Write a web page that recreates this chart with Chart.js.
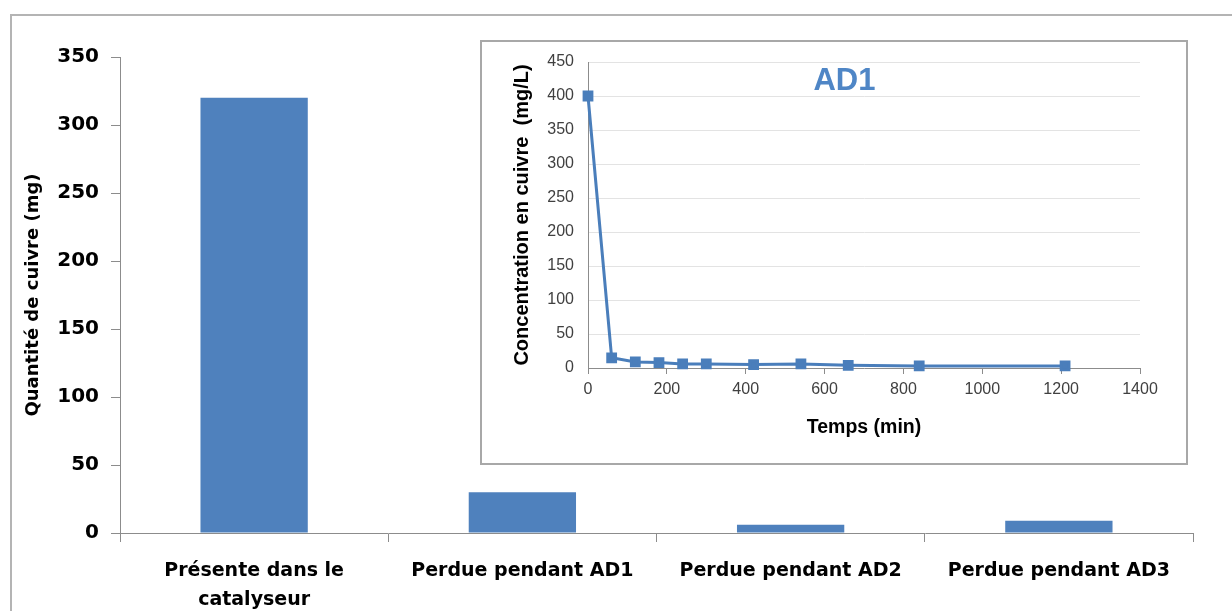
<!DOCTYPE html>
<html>
<head>
<meta charset="utf-8">
<script src="https://cdn.jsdelivr.net/npm/chart.js@4"></script>
<style>
    body { margin: 0; background: #fff; }
    #wrap { position: relative; width: 1232px; height: 611px; overflow: hidden; }
    #frame { position: absolute; left: 10px; top: 14px; width: 1300px; height: 700px; border-left: 2px solid #b4b4b4; border-top: 2px solid #b4b4b4; }
    #main { position: absolute; left: 0; top: 0; }
    #inset { position: absolute; left: 480px; top: 40px; width: 704px; height: 421px; border: 2px solid #a8a8a8; background: #fff; }
    #insetTitle { position: absolute; left: 295px; top: 20px; width: 135px; text-align: center; font: bold 31px "Liberation Sans", Arial, sans-serif; color: #4f86c6; }
</style>
</head>
<body>
<div id="wrap">
    <div id="frame"></div>
    <canvas id="main" width="1232" height="611"></canvas>
    <div id="inset">
        <canvas id="insetChart" width="704" height="421"></canvas>
        <div id="insetTitle">AD1</div>
    </div>
</div>
<script>
// bar chart : quantite de cuivre
const categories = [['Présente dans le', 'catalyseur'], 'Perdue pendant AD1', 'Perdue pendant AD2', 'Perdue pendant AD3'];
const quantite = [320, 30, 6, 9];

// inset : concentration vs temps
const temps = [0, 60, 120, 180, 240, 300, 420, 540, 660, 840, 1210];
const concentration = [400, 15, 9, 8, 6, 6, 5, 6, 4, 3, 3];

const bleu = '#4f81bd';

document.addEventListener("DOMContentLoaded", function () {

    function mainChart() {
        const ctx = document.getElementById('main');
        new Chart(ctx, {
            type: 'bar',
            data: {
                labels: categories,
                datasets: [{
                    data: quantite,
                    backgroundColor: bleu,
                    categoryPercentage: 1,
                    barPercentage: 0.4
                }]
            },
            options: {
                responsive: false,
                animation: false,
                layout: { padding: { left: 14, top: 57, right: 39, bottom: 0 } },
                plugins: { legend: { display: false }, tooltip: { enabled: false } },
                scales: {
                    x: {
                        grid: { display: true, drawOnChartArea: false, tickLength: 9, color: '#8c8c8c', offset: true },
                        border: { color: '#8c8c8c', width: 1 },
                        ticks: { color: '#000', padding: 14, maxRotation: 0, font: { family: 'DejaVu Sans', weight: 'bold', size: 19, lineHeight: 1.55 } },
                        afterFit: function (scale) { scale.height = 78; }
                    },
                    y: {
                        min: 0,
                        max: 350,
                        ticks: { stepSize: 50, color: '#000', padding: 12, font: { family: 'DejaVu Sans', weight: 'bold', size: 20 } },
                        grid: { display: true, drawOnChartArea: false, tickLength: 9, color: '#8c8c8c' },
                        border: { color: '#8c8c8c', width: 1 },
                        title: {
                            display: true,
                            text: 'Quantité de cuivre (mg)',
                            color: '#000',
                            padding: { top: 9, bottom: 0 },
                            font: { family: 'DejaVu Sans', weight: 'bold', size: 18 }
                        },
                        afterFit: function (scale) { scale.width = 106; }
                    }
                }
            }
        });
    }
    mainChart()

    function insetChart() {
        const ctx = document.getElementById('insetChart');
        const points = temps.map((t, i) => ({ x: t, y: concentration[i] }));
        new Chart(ctx, {
            type: 'line',
            data: {
                datasets: [{
                    data: points,
                    borderColor: '#4a7ebb',
                    backgroundColor: '#4a7ebb',
                    borderWidth: 3,
                    pointStyle: 'rect',
                    pointRadius: 5.5,
                    tension: 0,
                    clip: false
                }]
            },
            options: {
                responsive: false,
                animation: false,
                layout: { padding: { left: 8, top: 20, right: 46, bottom: 0 } },
                plugins: { legend: { display: false }, tooltip: { enabled: false } },
                scales: {
                    x: {
                        type: 'linear',
                        min: 0,
                        max: 1400,
                        ticks: {
                            stepSize: 200, color: '#404040', padding: 6, maxRotation: 0,
                            font: { family: 'Liberation Sans', size: 16 },
                            callback: v => String(v)
                        },
                        grid: { display: true, drawOnChartArea: false, tickLength: 6, color: '#8c8c8c' },
                        border: { color: '#8c8c8c' },
                        title: {
                            display: true,
                            text: 'Temps (min)',
                            color: '#000',
                            padding: { top: 0, bottom: 24 },
                            font: { family: 'Liberation Sans', weight: 'bold', size: 19.5 }
                        },
                        afterFit: function (scale) { scale.height = 95; }
                    },
                    y: {
                        min: 0,
                        max: 450,
                        ticks: { stepSize: 50, color: '#404040', padding: 14, font: { family: 'Liberation Sans', size: 16 } },
                        grid: { color: '#e3e3e3', tickLength: 0 },
                        border: { color: '#8c8c8c' },
                        title: {
                            display: true,
                            text: 'Concentration en cuivre  (mg/L)',
                            color: '#000',
                            padding: { top: 20, bottom: 0 },
                            font: { family: 'Liberation Sans', weight: 'bold', size: 20 }
                        },
                        afterFit: function (scale) {
                            scale.width = 98;
                            scale.paddingTop = 10;
                            scale.paddingBottom = 10;
                        }
                    }
                }
            }
        });
    }
    insetChart()
});
</script>
</body>
</html>
